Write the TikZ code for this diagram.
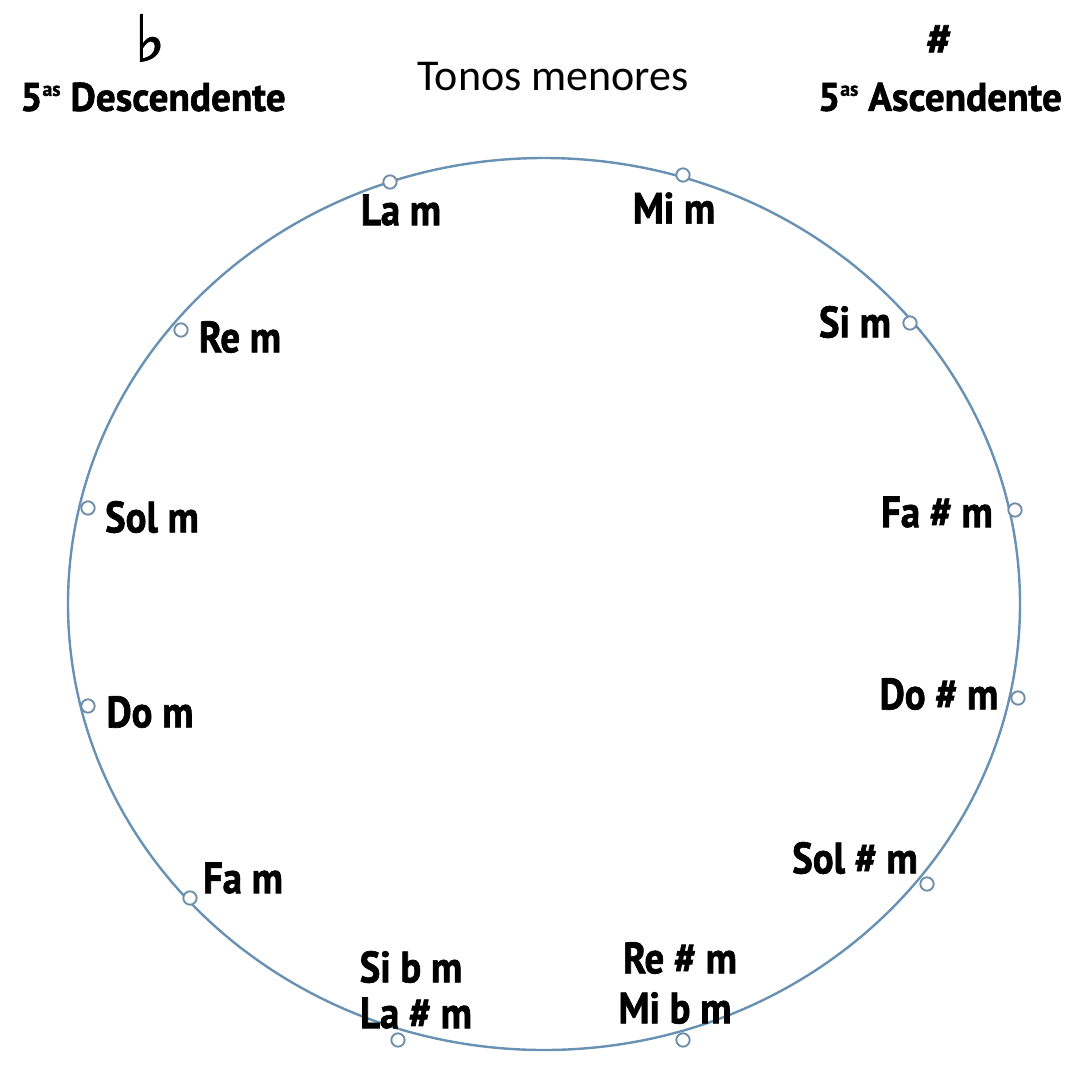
\documentclass[tikz,border=0pt]{standalone}
\usepackage{fontspec}
\setmainfont{PT Sans}
\newfontfamily\labfont[FakeStretch=0.88,FakeBold=1.5]{PT Sans Bold}
\newfontfamily\headfont[FakeStretch=0.98,FakeBold=1.5]{PT Sans Bold}
\newfontfamily\calfont{Carlito}
\newfontfamily\symfont[FakeBold=2]{DejaVu Sans}
\definecolor{ringblue}{RGB}{105,145,180}
\begin{document}
\begin{tikzpicture}[x=0.75pt,y=-0.75pt,
  dot/.style={circle,draw=ringblue!80!gray,fill=white,line width=1.4pt,minimum size=10pt,inner sep=0pt},
  lab/.style={font=\labfont\fontsize{33}{36}\selectfont,inner sep=0pt,align=center},
  head/.style={font=\headfont\fontsize{30}{34}\selectfont,inner sep=0pt}]
\useasboundingbox (0,0) rectangle (1075,1067);
\draw[ringblue,line width=1.8pt] (544,604) ellipse [x radius=476, y radius=446];
% dots
\node[dot] (la)  at (390,182) {};
\node[dot] (mi)  at (683,175) {};
\node[dot] (re)  at (181,330) {};
\node[dot] (si)  at (910,323) {};
\node[dot] (sol) at (88,508) {};
\node[dot] (fas) at (1015,510) {};
\node[dot] (do)  at (88,706) {};
\node[dot] (dos) at (1018,698) {};
\node[dot] (fa)  at (190,898) {};
\node[dot] (sols) at (927,884) {};
\node[dot] (sib) at (398,1040) {};
\node[dot] (res) at (683,1040) {};
% labels
\node[lab] (lLa)  at (401,210) {La m};
\node[lab] (lMi)  at (674,208) {Mi m};
\node[lab] (lRe)  at (240,337) {Re m};
\node[lab] (lSi)  at (855,322) {Si m};
\node[lab] (lSol) at (152,517) {Sol m};
\node[lab] (lFas) at (937,512) {Fa \# m};
\node[lab] (lDo)  at (150,712) {Do m};
\node[lab] (lDos) at (939,694) {Do \# m};
\node[lab] (lFa)  at (243,878) {Fa m};
\node[lab] (lSols) at (855,858) {Sol \# m};
\node[lab] (lSib1) at (411,967) {Si b m};
\node[lab] (lSib2) at (416,1013) {La \# m};
\node[lab] (lRes1) at (680,958) {Re \# m};
\node[lab] (lRes2) at (675,1008) {Mi b m};
% headings
\node[inner sep=0pt,font=\symfont\fontsize{48}{52}\selectfont] (flat) at (150,38) {♭};
\node[head] (desc) at (153,97) {5\raisebox{0.75ex}{\fontsize{15}{15}\selectfont as} Descendente};
\node[inner sep=0pt,font=\headfont\fontsize{34}{38}\selectfont] (sharp) at (939,40) {\#};
\node[head] (asc) at (940,97) {5\raisebox{0.75ex}{\fontsize{15}{15}\selectfont as} Ascendente};
\node[inner sep=0pt,font=\calfont\fontsize{33}{36}\selectfont] (title) at (553,77) {Tonos menores};
\end{tikzpicture}
\end{document}
